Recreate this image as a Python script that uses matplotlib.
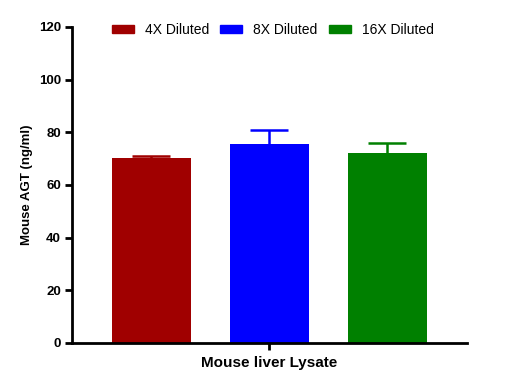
import matplotlib.pyplot as plt
from matplotlib.patches import Patch
import numpy as np

plt.rcParams['font.family'] = ['Liberation Sans', 'DejaVu Sans']

groups = ["4X Diluted", "8X Diluted", "16X Diluted"]
means = [70.3, 75.6, 72.2]
errors = [0.6, 5.4, 3.6]
colors = ['#a00000', '#0000ff', '#008000']
yticks = [0, 20, 40, 60, 80, 100, 120]

fig = plt.figure(figsize=(5.12, 3.91), dpi=100)
ax = fig.add_axes([0.1406, 0.1228, 0.7714, 0.8082])

x = np.arange(len(groups))
for i in range(len(groups)):
    ax.bar(x[i], means[i], width=0.67, color=colors[i], zorder=2)
    eb = ax.errorbar(x[i], means[i], yerr=[[0], [errors[i]]], color=colors[i],
                     capsize=14, elinewidth=1.8, capthick=1.8, zorder=1)
    # hide the lower cap (one-sided error bar)
    eb[1][0].set_visible(False)

ax.set_xlim(-0.674, 2.674)
ax.set_ylim(0, 120)
ax.set_yticks(yticks)
ax.set_xticks([1])
ax.set_xticklabels([""])
ax.set_xlabel("Mouse liver Lysate", fontsize=11, fontweight='bold', labelpad=1.5)
ax.set_ylabel("Mouse AGT (ng/ml)", fontsize=9.5, fontweight='bold', labelpad=4)

for lbl in ax.get_yticklabels():
    lbl.set_fontweight('bold')
    lbl.set_fontsize(9.5)

ax.spines['top'].set_visible(False)
ax.spines['right'].set_visible(False)
ax.spines['left'].set_linewidth(2)
ax.spines['bottom'].set_linewidth(2)
ax.tick_params(axis='both', width=2, length=5, pad=3)

handles = [Patch(color=c, label=g) for c, g in zip(colors, groups)]
ax.legend(handles=handles, ncol=3, loc='center', bbox_to_anchor=(0.508, 0.99),
          frameon=False, fontsize=10, handlelength=1.58, handleheight=0.5,
          columnspacing=0.8, handletextpad=0.8)

plt.savefig('out.png', dpi=100)
